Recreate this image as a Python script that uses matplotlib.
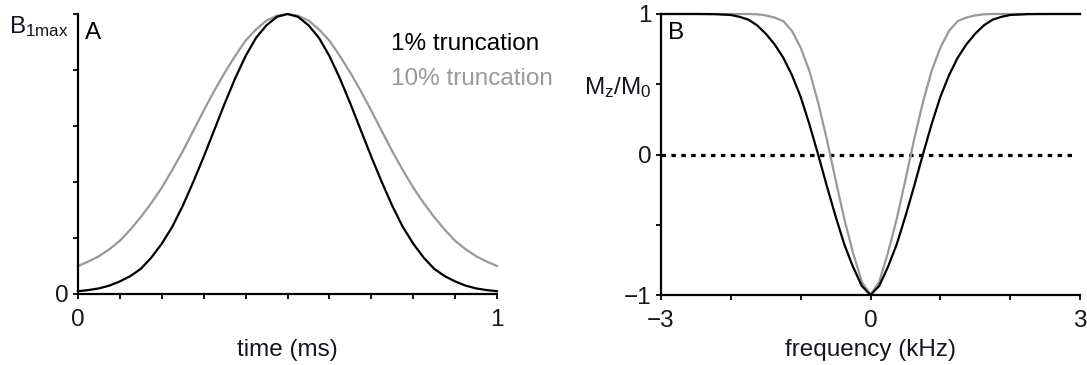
import matplotlib
matplotlib.use("Agg")
import matplotlib.pyplot as plt

plt.rcParams['font.family'] = ['Liberation Sans', 'DejaVu Sans']
plt.rcParams['mathtext.fontset'] = 'custom'
plt.rcParams['mathtext.rm'] = 'Liberation Sans'
plt.rcParams['mathtext.it'] = 'Liberation Sans'

# panel A: pulse envelope, time in ms (symmetric about 0.5)
time_ms = [0.0, 0.025, 0.05, 0.075, 0.1, 0.125, 0.15, 0.175, 0.2, 0.225, 0.25,
           0.275, 0.3, 0.325, 0.35, 0.375, 0.4, 0.425, 0.45, 0.475, 0.5,
           0.525, 0.55, 0.575, 0.6, 0.625, 0.65, 0.675, 0.7, 0.725, 0.75,
           0.775, 0.8, 0.825, 0.85, 0.875, 0.9, 0.925, 0.95, 0.975, 1.0]
b1_trunc1 = [0.01, 0.014, 0.02, 0.03, 0.045, 0.064, 0.09, 0.13, 0.18, 0.24, 0.315,
             0.40, 0.49, 0.585, 0.68, 0.77, 0.85, 0.915, 0.96, 0.99, 1.0,
             0.99, 0.96, 0.915, 0.85, 0.77, 0.68, 0.585, 0.49, 0.40, 0.315,
             0.24, 0.18, 0.13, 0.09, 0.064, 0.045, 0.03, 0.02, 0.014, 0.01]
b1_trunc10 = [0.10, 0.116, 0.135, 0.16, 0.19, 0.23, 0.275, 0.325, 0.38, 0.443, 0.51,
              0.582, 0.655, 0.725, 0.79, 0.85, 0.905, 0.945, 0.977, 0.994, 1.0,
              0.994, 0.977, 0.945, 0.905, 0.85, 0.79, 0.725, 0.655, 0.582, 0.51,
              0.443, 0.38, 0.325, 0.275, 0.23, 0.19, 0.16, 0.135, 0.116, 0.10]

# panel B: inversion profile, frequency in kHz
freq_khz = [-3.0, -2.75, -2.5, -2.25, -2.0, -1.875, -1.75, -1.625, -1.5, -1.375,
            -1.25, -1.125, -1.0, -0.875, -0.75, -0.625, -0.5, -0.375, -0.25, -0.125,
            0.0,
            0.125, 0.25, 0.375, 0.5, 0.625, 0.75, 0.875, 1.0, 1.125, 1.25,
            1.375, 1.5, 1.625, 1.75, 1.875, 2.0, 2.25, 2.5, 2.75, 3.0]
mz_trunc1 = [1.0, 1.0, 1.0, 0.999, 0.993, 0.98, 0.96, 0.92, 0.86, 0.785,
             0.69, 0.565, 0.41, 0.215, 0.0, -0.225, -0.44, -0.64, -0.80, -0.935,
             -1.0,
             -0.935, -0.80, -0.64, -0.44, -0.225, 0.0, 0.215, 0.41, 0.565, 0.69,
             0.785, 0.86, 0.92, 0.96, 0.98, 0.993, 0.999, 1.0, 1.0, 1.0]
mz_trunc10 = [1.0, 1.0, 1.0, 1.0, 1.0, 1.0, 1.0, 0.998, 0.99, 0.975,
              0.95, 0.88, 0.76, 0.595, 0.37, 0.107, -0.18, -0.46, -0.70, -0.905,
              -1.0,
              -0.905, -0.70, -0.46, -0.18, 0.107, 0.37, 0.595, 0.76, 0.88, 0.95,
              0.975, 0.99, 0.998, 1.0, 1.0, 1.0, 1.0, 1.0, 1.0, 1.0]
zero_x = [-3.0, 2.93]
zero_y = [0.0, 0.0]

legend_labels = ['1% truncation', '10% truncation']
black = '#000000'
grey = '#999999'
txt = '#151520'
fs = 17.5

fig = plt.figure(figsize=(10.87, 3.65), dpi=100)
axA = fig.add_axes([78/1087, 71/365, 419/1087, 280/365])
axB = fig.add_axes([661/1087, 70/365, 419/1087, 281/365])

for ax in (axA, axB):
    for s in ('top', 'right'):
        ax.spines[s].set_visible(False)
    for s in ('left', 'bottom'):
        ax.spines[s].set_linewidth(1.6)
    ax.tick_params(direction='out', length=3.5, width=1.4, labelsize=fs,
                   colors=txt)
    ax.tick_params(axis='x', pad=7.5)
    ax.tick_params(axis='y', pad=3.5)

# A
axA.plot(time_ms, b1_trunc10, color=grey, lw=1.6, clip_on=False)
axA.plot(time_ms, b1_trunc1, color=black, lw=1.6, clip_on=False)
axA.set_xlim(0, 1)
axA.set_ylim(0, 1)
axA.set_xticks([0, 0.1, 0.2, 0.3, 0.4, 0.5, 0.6, 0.7, 0.8, 0.9, 1.0])
axA.set_xticklabels(['0', '', '', '', '', '', '', '', '', '', '1'])
axA.set_yticks([0, 0.2, 0.4, 0.6, 0.8, 1.0])
axA.set_yticklabels(['0', '', '', '', '', r'$\mathrm{B_{1max}}$'])
axA.get_yticklabels()[-1].set_verticalalignment('top')
axA.set_xlabel('time (ms)', fontsize=fs, color=txt, labelpad=5.5)
axA.text(0.017, 0.932, 'A', transform=axA.transAxes, fontsize=fs, va='center')
axA.text(0.747, 0.893, legend_labels[0], transform=axA.transAxes,
         fontsize=fs, color=black, va='center')
axA.text(0.747, 0.768, legend_labels[1], transform=axA.transAxes,
         fontsize=fs, color=grey, va='center')

# B
axB.plot(zero_x, zero_y, color=black, lw=2.3, ls=(0, (1.4, 1.7)),
         dash_capstyle='butt')
axB.plot(freq_khz, mz_trunc10, color=grey, lw=1.6, clip_on=False)
axB.plot(freq_khz, mz_trunc1, color=black, lw=1.6, clip_on=False)
axB.set_xlim(-3, 3)
axB.set_ylim(-1, 1)
axB.set_xticks([-3, -2, -1, 0, 1, 2, 3])
axB.set_xticklabels(['\u22123', '', '', '0', '', '', '3'])
axB.set_yticks([-1, -0.5, 0, 0.5, 1])
axB.set_yticklabels(['\u22121', '', '0', r'$\mathrm{M_z/M_0}$', '1'])
axB.set_xlabel('frequency (kHz)', fontsize=fs, color=txt, labelpad=5)
axB.text(0.017, 0.932, 'B', transform=axB.transAxes, fontsize=fs, va='center')

fig.savefig('out.png', dpi=100)
